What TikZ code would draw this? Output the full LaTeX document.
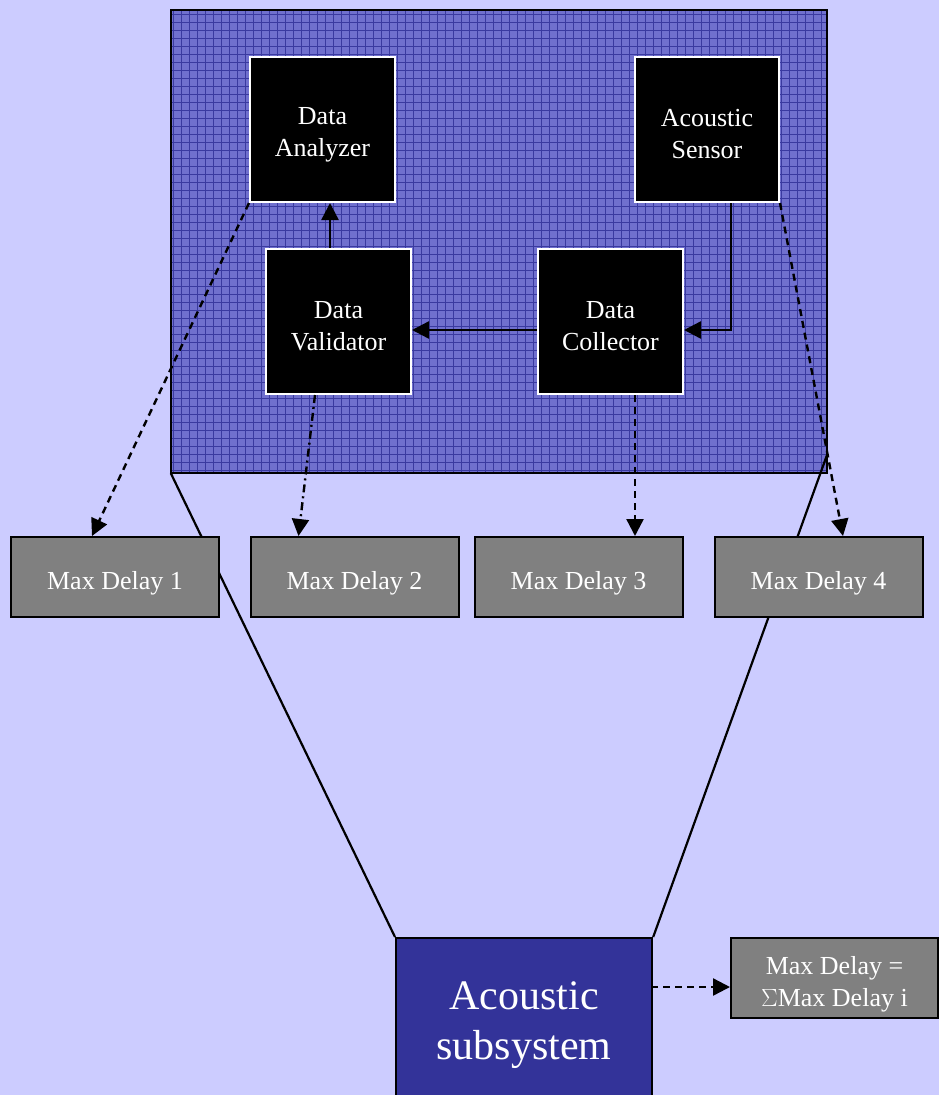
\documentclass[tikz,border=0pt]{standalone}
\usepackage{fontspec}
\setmainfont{Liberation Serif}
\usetikzlibrary{arrows.meta}
\definecolor{bgblue}{HTML}{CCCCFF}
\definecolor{meshfill}{HTML}{7070CE}
\definecolor{meshline}{HTML}{3A3AA0}
\definecolor{subblue}{HTML}{333399}
\definecolor{delaygray}{HTML}{808080}
\tikzset{
  boxtext/.style={text=white, align=center, inner sep=0pt,
    font=\fontsize{26}{32}\selectfont},
  blackbox/.style={draw=white, line width=2pt, fill=black,
    minimum width=145pt, minimum height=145pt, inner sep=0pt,
    label={[boxtext, yshift=-5pt]center:#1}},
  delaybox/.style={draw=black, line width=2pt, fill=delaygray,
    minimum width=208pt, minimum height=80pt, inner sep=0pt,
    label={[boxtext, yshift=-6pt]center:#1}},
  zoomline/.style={draw=black, line width=2.2pt},
  flow/.style={draw=black, line width=2.4pt, -{Triangle[length=17pt,width=17pt]}},
  delayflow/.style={flow, dash pattern=on 7pt off 5pt},
  dotflow/.style={flow, dash pattern=on 8pt off 4pt on 2pt off 4pt},
  meshrule/.style={draw=meshline, line width=1pt},
}
\begin{document}
\begin{tikzpicture}[x=1pt, y=-1pt]
  \clip (0,0) rectangle (939,1095);
  \fill[bgblue] (0,0) rectangle (939,1095);

  % meshed enclosure of the subsystem internals
  \node[fill=meshfill, minimum width=656pt, minimum height=463pt, inner sep=0pt]
    (zoom) at (499,241.5) {};
  \begin{scope}
    \clip (zoom.south west) rectangle (zoom.north east);
    \foreach \i in {0,...,82} \draw[meshrule] (173.5+\i*8, 8) -- (173.5+\i*8, 476);
    \foreach \j in {0,...,58} \draw[meshrule] (168, 14.5+\j*8) -- (830, 14.5+\j*8);
  \end{scope}
  \draw[line width=2.2pt] (zoom.south west) rectangle (zoom.north east);

  % subsystem block and its zoom-out lines
  \node[draw=black, line width=2.2pt, fill=subblue,
    minimum width=256pt, minimum height=166pt, inner sep=0pt, anchor=north west,
    label={[boxtext, font=\fontsize{42}{50}\selectfont, yshift=-4pt]center:Acoustic\\subsystem}]
    (sub) at (395,937) {};
  \coordinate (zr) at (827,455);
  \draw[zoomline] (zoom.south west) -- (sub.north west);
  \draw[zoomline] (zr) -- (sub.north east);

  % internal components
  \node[blackbox={Data\\Analyzer}] (an) at (322.5,129.5) {};
  \node[blackbox={Acoustic\\Sensor}, minimum width=144pt] (sn) at (707,129.5) {};
  \node[blackbox={Data\\Validator}] (va) at (338.5,321.5) {};
  \node[blackbox={Data\\Collector}] (co) at (610.5,321.5) {};

  % per-component delays
  \node[delaybox={Max Delay 1}] (m1) at (115,577) {};
  \node[delaybox={Max Delay 2}] (m2) at (354.5,577) {};
  \node[delaybox={Max Delay 3}] (m3) at (578.5,577) {};
  \node[delaybox={Max Delay 4}] (m4) at (818.5,577) {};
  \node[delaybox={Max Delay =\\$\Sigma$Max Delay i}, minimum width=207pt]
    (md) at (834.5,978) {};

  % data flow
  \draw[flow] ([xshift=24pt]sn.south) |- ([yshift=-8.5pt]co.east);
  \draw[flow] ([yshift=-8.5pt]co.west) -- ([yshift=-8.5pt]va.east);
  \draw[flow] ([xshift=-8.5pt]va.north) -- ([xshift=-8.5pt]va.north |- an.south);

  % delay contributions
  \draw[delayflow] (an.south west) -- ([xshift=-23pt]m1.north);
  \draw[dotflow] ([xshift=-23.5pt]va.south) -- ([xshift=-56pt]m2.north);
  \draw[delayflow] ([xshift=24.5pt]co.south) -- ([xshift=56.5pt]m3.north);
  \draw[delayflow] (sn.south east) -- ([xshift=24.5pt]m4.north);
  \coordinate (tap) at (651,987);
  \draw[delayflow] (tap) -- (tap -| md.west);
\end{tikzpicture}
\end{document}
